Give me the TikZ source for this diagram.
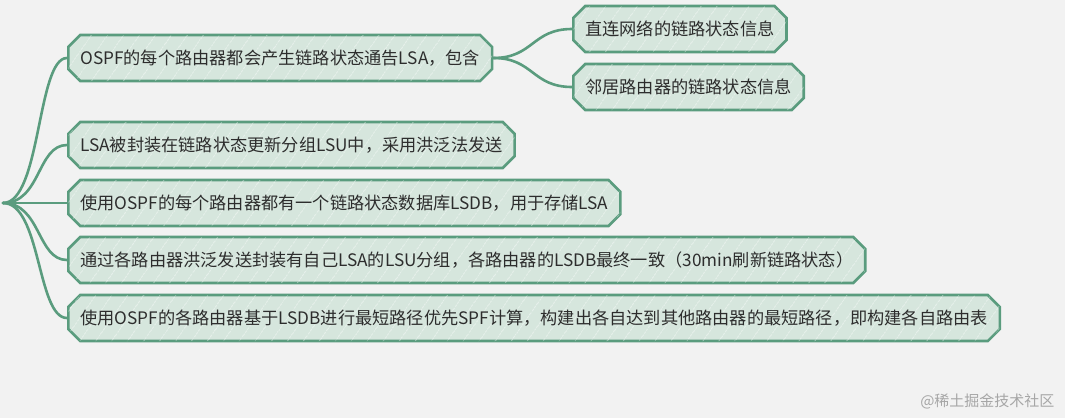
\documentclass[tikz,border=0pt]{standalone}
\usepackage{fontspec}
\setmainfont{Noto Sans CJK SC}
\usepackage{tikz}
\usetikzlibrary{shapes.misc,patterns.meta}
\definecolor{mapgreen}{RGB}{90,156,126}
\definecolor{mapfill}{RGB}{214,230,221}
\definecolor{maptext}{RGB}{45,45,45}
\definecolor{mapback}{RGB}{242,242,242}

\tikzset{
  topic/.style={chamfered rectangle, chamfered rectangle xsep=6pt, chamfered rectangle ysep=6pt,
    draw=mapgreen, line width=2.6pt, fill=mapfill, text=maptext, anchor=west,
    inner xsep=6pt, inner ysep=0pt, minimum height=46pt,
    font=\fontsize{17.2}{20}\selectfont,
    postaction={fill opacity=0.6, pattern={Lines[angle=55,distance=13pt,line width=0.5pt]}, pattern color=white}},
  branch/.style={draw=mapgreen, line width=2.6pt, line cap=round}
}

\begin{document}
\begin{tikzpicture}[x=1pt,y=-1pt]
\fill[mapback] (0,0) rectangle (1065,418);
\useasboundingbox (0,0) rectangle (1065,418);

\coordinate (root) at (3,203);

% main topics
\node[topic] (lsa)   at (67,58)  {OSPF的每个路由器都会产生链路状态通告LSA，包含};
\node[topic] (lsu)   at (67,145) {LSA被封装在链路状态更新分组LSU中，采用洪泛法发送};
\node[topic] (lsdb)  at (67,203) {使用OSPF的每个路由器都有一个链路状态数据库LSDB，用于存储LSA};
\node[topic] (flood) at (67,260) {通过各路由器洪泛发送封装有自己LSA的LSU分组，各路由器的LSDB最终一致（30min刷新链路状态）};
\node[topic] (spf)   at (67,318) {使用OSPF的各路由器基于LSDB进行最短路径优先SPF计算，构建出各自达到其他路由器的最短路径，即构建各自路由表};

% sub topics
\node[topic] (direct)    at (572,29) {直连网络的链路状态信息};
\node[topic] (neighbour) at (572,87) {邻居路由器的链路状态信息};

\foreach \n in {lsa,lsu,lsdb,flood,spf}
  \draw[branch] (root) .. controls +(38,0) and +(-30,0) .. (\n.west);
\foreach \n in {direct,neighbour}
  \draw[branch] (lsa.east) .. controls +(40,0) and +(-40,0) .. (\n.west);

\node[text=black!35, font=\fontsize{15}{18}\selectfont, anchor=east] (mark) at (1058,401) {@稀土掘金技术社区};
\end{tikzpicture}
\end{document}
